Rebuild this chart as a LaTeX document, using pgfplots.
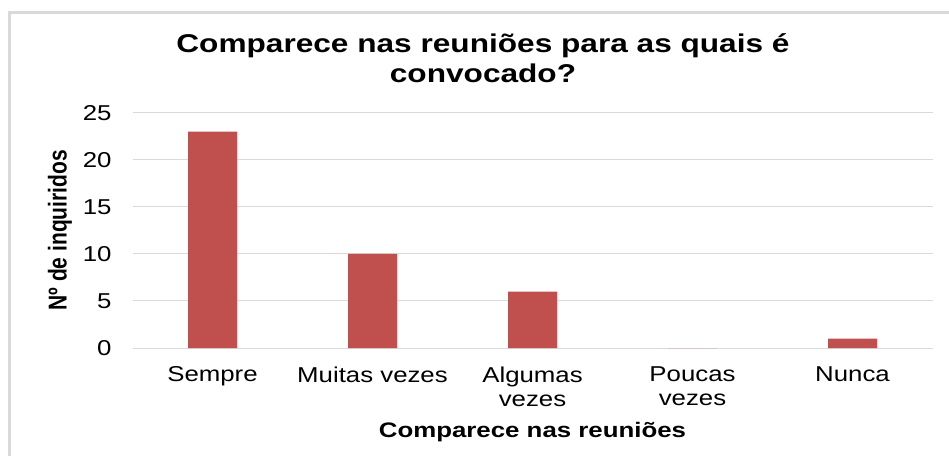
\documentclass[border=0pt]{standalone}
\usepackage{fontspec}
\setmainfont{Liberation Sans}
\usepackage{pgfplots}
\pgfplotsset{compat=1.18}
\definecolor{barred}{HTML}{C0504D}
\definecolor{gridgray}{HTML}{D9D9D9}
\begin{document}
\begin{tikzpicture}[x=1pt,y=1pt]
\path[use as bounding box] (0,0) rectangle (949,455);
\begin{scope}
\clip (0,0) rectangle (949,455);
\draw[gridgray, line width=2.6pt] (9.3,-20) |- (980,442.5);
\end{scope}
\begin{axis}[
  at={(132.5pt,107pt)}, anchor=south west,
  scale only axis, width=800pt, height=235.3pt,
  ybar, bar width=49pt,
  xmin=-0.5, xmax=4.5, ymin=0, ymax=25,
  ytick={0,5,10,15,20,25},
  xtick=data,
  xticklabels={Sempre,Muitas vezes,Algumas\\vezes,Poucas\\vezes,Nunca},
  major tick length=0pt,
  axis line style={draw=none},
  ymajorgrids, grid style={gridgray, line width=1pt},
  /pgf/number format/assume math mode=true,
  tick label style={font=\fontsize{21.5}{24.5}\selectfont, xscale=1.2},
  xticklabel style={align=center, anchor=north, yshift=-15pt},
  yticklabel style={anchor=east, xshift=-14pt},
  xlabel={Comparece nas reuniões},
  ylabel={Nº de inquiridos},
  label style={font=\bfseries\fontsize{21}{24}\selectfont},
  xlabel style={at={(axis description cs:0.5,0)}, anchor=center, yshift=-84pt, xscale=1.23},
  ylabel style={at={(axis description cs:-0.0906,0.5)}, anchor=center, yscale=1.23},
]
\addplot[fill=barred, draw=none] coordinates {(0,23) (1,10) (2,6) (3,0) (4,1)};
\end{axis}
\node[font=\bfseries\fontsize{25.7}{30}\selectfont, align=center, xscale=1.23] at (483,397) {Comparece nas reuniões para as quais é\\convocado?};
\end{tikzpicture}
\end{document}
